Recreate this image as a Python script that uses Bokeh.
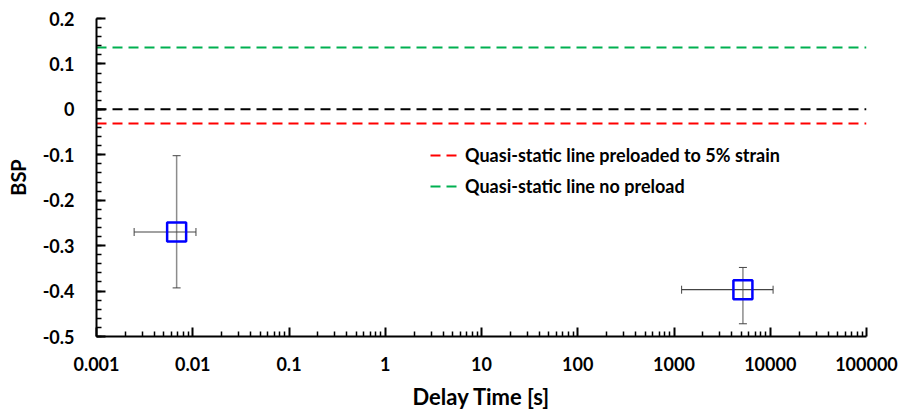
from bokeh.plotting import figure
from bokeh.models import (FixedTicker, CustomJSTickFormatter, Span, Legend, LegendItem,
                          Whisker, ColumnDataSource, Range1d, TeeHead)
from bokeh.embed import file_html
from bokeh.resources import INLINE

# ---- data ----
delay_time = [0.0068, 5200.0]
bsp = [-0.27, -0.397]
bsp_upper = [-0.102, -0.348]
bsp_lower = [-0.393, -0.472]
time_lower = [0.00246, 1200.0]
time_upper = [0.0108, 10700.0]

zero_line = 0.0
preload_5pct_line = -0.031
no_preload_line = 0.136

x_ticks = [0.001, 0.01, 0.1, 1, 10, 100, 1000, 10000, 100000]
y_ticks = [0.2, 0.1, 0.0, -0.1, -0.2, -0.3, -0.4, -0.5]

FONT = "Lato"
DASH = "10 6"

p = figure(width=906, height=412, x_axis_type="log", output_backend="svg",
           toolbar_location=None, x_range=Range1d(0.001, 100000), y_range=Range1d(-0.5, 0.2),
           min_border_left=96, min_border_right=40, min_border_top=18, min_border_bottom=76)
p.outline_line_color = None
p.xgrid.visible = False
p.ygrid.visible = False
p.background_fill_color = "white"
p.border_fill_color = "white"

# minor ticks for log axis
minor = []
for d in range(-3, 5):
    for k in range(2, 10):
        minor.append(k * 10.0 ** d)
p.xaxis.ticker = FixedTicker(ticks=x_ticks, minor_ticks=minor)
p.xaxis.formatter = CustomJSTickFormatter(code="""
    if (tick >= 1) { return Math.round(tick).toString(); }
    return Number(tick.toPrecision(1)).toString();
""")
y_minor = [round(-0.5 + 0.02 * i, 3) for i in range(36)]
p.yaxis.ticker = FixedTicker(ticks=y_ticks, minor_ticks=y_minor)
p.yaxis.formatter = CustomJSTickFormatter(code="""
    if (Math.abs(tick) < 1e-9) { return "0"; }
    return tick.toFixed(1);
""")

for ax in (p.xaxis, p.yaxis):
    ax.axis_line_color = "black"
    ax.axis_line_width = 2
    ax.major_tick_line_color = "black"
    ax.minor_tick_line_color = "black"
    ax.major_tick_line_width = 2
    ax.minor_tick_line_width = 1.5
    ax.major_tick_out = 0
    ax.major_tick_in = 9
    ax.minor_tick_out = 0
    ax.minor_tick_in = 5
    ax.major_label_text_font = FONT
    ax.major_label_text_font_style = "bold"
    ax.major_label_text_font_size = "18px"
    ax.major_label_text_color = "black"
    ax.axis_label_text_font = FONT
    ax.axis_label_text_font_style = "bold"
    ax.axis_label_text_color = "black"

p.xaxis.axis_label_text_font_size = "22px"
p.yaxis.axis_label_text_font_size = "20px"
p.xaxis.axis_label = "Delay Time [s]"
p.yaxis.axis_label = "BSP"
p.xaxis.major_label_standoff = 20
p.yaxis.major_label_standoff = 22
p.xaxis.axis_label_standoff = 9
p.yaxis.axis_label_standoff = 10

# horizontal reference lines
p.add_layout(Span(location=zero_line, dimension="width", line_color="black",
                  line_width=2, line_dash=DASH))
r_red = p.line(x=[0.001, 100000], y=[preload_5pct_line] * 2, line_color="#ff0000",
               line_width=2, line_dash=DASH)
r_green = p.line(x=[0.001, 100000], y=[no_preload_line] * 2, line_color="#00b050",
                 line_width=2, line_dash=DASH)

src = ColumnDataSource(dict(x=delay_time, y=bsp, yu=bsp_upper, yl=bsp_lower,
                            xl=time_lower, xu=time_upper))
# error bars
p.add_layout(Whisker(source=src, base="x", upper="yu", lower="yl", dimension="height",
                     line_color="#8c8c8c", line_width=1.5,
                     upper_head=None, lower_head=None))
p.add_layout(Whisker(source=src, base="y", upper="xu", lower="xl", dimension="width",
                     line_color="#444444", line_width=1.2,
                     upper_head=None, lower_head=None))
p.add_layout(Whisker(source=src, base="x", upper="yu", lower="yl", dimension="height",
                     line_alpha=0,
                     upper_head=TeeHead(size=8, line_color="#444444", line_width=1),
                     lower_head=TeeHead(size=8, line_color="#444444", line_width=1)))
p.add_layout(Whisker(source=src, base="y", upper="xu", lower="xl", dimension="width",
                     line_alpha=0,
                     upper_head=TeeHead(size=8, line_color="#444444", line_width=1),
                     lower_head=TeeHead(size=8, line_color="#444444", line_width=1)))

p.scatter(x="x", y="y", source=src, marker="square", size=19, fill_color=None,
          line_color="#0000ff", line_width=2.5)

legend = Legend(items=[LegendItem(label="Quasi-static line preloaded to 5% strain", renderers=[r_red]),
                       LegendItem(label="Quasi-static line no preload", renderers=[r_green])],
                location=(334, 139), background_fill_alpha=0, border_line_color=None,
                padding=0, margin=0, spacing=9, glyph_width=27, glyph_height=20,
                label_height=20, label_standoff=8,
                label_text_font=FONT, label_text_font_style="bold",
                label_text_font_size="18px", label_text_color="black")
p.add_layout(legend)

open("out.html", "w").write(file_html(p, INLINE))
